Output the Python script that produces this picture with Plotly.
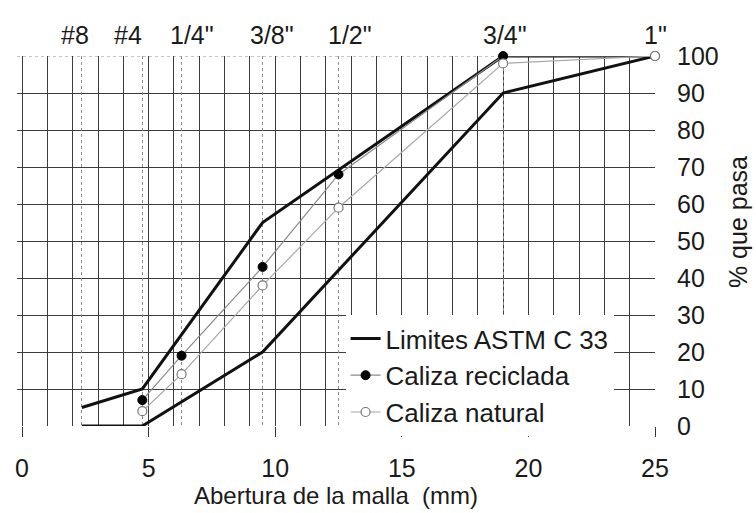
import plotly.graph_objects as go

# ---- data ----
sieve_mm = [2.36, 4.75, 6.3, 9.5, 12.5, 19.0, 25.0]
sieve_labels = ['#8', '#4', '1/4"', '3/8"', '1/2"', '3/4"', '1"']

lower_x = [2.36, 4.75, 9.5, 19.0, 25.0]
lower_y = [0, 0, 20, 90, 100]
upper_x = [2.36, 4.75, 9.5, 19.0, 25.0]
upper_y = [5, 10, 55, 100, 100]

sample_x = [4.75, 6.3, 9.5, 12.5, 19.0, 25.0]
reciclada_y = [7, 19, 43, 68, 100, 100]
natural_y = [4, 14, 38, 59, 98, 100]

x_ticks = [0, 5, 10, 15, 20, 25]
y_ticks = [0, 10, 20, 30, 40, 50, 60, 70, 80, 90, 100]

# label nudges (pixels) for the sieve names on top, to mimic the original layout
label_shift = [-7, -14, 10, 9, 11, 2, 0]

FONT = "Liberation Sans, Arial, sans-serif"
TXT = "#1a1a1a"
GRID = "#3c3c3c"
DOT = "#8a8a8a"

fig = go.Figure()

fig.add_trace(go.Scatter(
    x=lower_x + [None] + upper_x,
    y=lower_y + [None] + upper_y,
    mode="lines", name="Limites ASTM C 33",
    line=dict(color="#111111", width=3),
    cliponaxis=False,
))
fig.add_trace(go.Scatter(
    x=sample_x, y=reciclada_y, mode="lines+markers", name="Caliza reciclada",
    line=dict(color="#8a8a8a", width=1.2),
    marker=dict(symbol="circle", size=9, color="#000000", line=dict(color="#000000", width=1)),
    cliponaxis=False,
))
fig.add_trace(go.Scatter(
    x=sample_x, y=natural_y, mode="lines+markers", name="Caliza natural",
    line=dict(color="#a8a8a8", width=1.2),
    marker=dict(symbol="circle", size=9, color="#ffffff", line=dict(color="#777777", width=1.2)),
    cliponaxis=False,
))
# invisible trace to activate the top axis (dotted sieve lines)
fig.add_trace(go.Scatter(x=[sieve_mm[0]], y=[None], xaxis="x2", showlegend=False,
                         hoverinfo="skip", mode="markers"))

for xv, lab, sh in zip(sieve_mm, sieve_labels, label_shift):
    fig.add_annotation(x=xv, y=1, xref="x", yref="paper", text=lab, showarrow=False,
                       xanchor="center", yanchor="bottom", xshift=sh, yshift=5,
                       font=dict(size=25, color=TXT))

# right-hand axis title
fig.add_annotation(x=1.130, y=0.551, xref="paper", yref="paper", text="% que pasa",
                   showarrow=False, textangle=-90, xanchor="center", yanchor="middle",
                   font=dict(size=25, color=TXT))

# dotted top border at 100 %
fig.add_shape(type="line", xref="paper", yref="y", x0=0, x1=1, y0=100, y1=100,
              line=dict(color="white", width=2), layer="between")
fig.add_shape(type="line", xref="paper", yref="y", x0=0, x1=1, y0=100, y1=100,
              line=dict(color=DOT, width=1.2, dash="dot"), layer="between")
# white panel behind the legend (hides the grid there, as in the original)
fig.add_shape(type="rect", xref="paper", yref="paper", x0=0.4875, x1=0.955,
              y0=-0.014, y1=0.297, line=dict(width=0), fillcolor="white", layer="between")

fig.update_layout(
    width=756, height=513,
    margin=dict(l=17, r=101, t=56, b=87),
    paper_bgcolor="white", plot_bgcolor="white",
    font=dict(family=FONT, size=25, color=TXT),
    xaxis=dict(
        range=[-0.2, 25], tickvals=x_ticks, ticktext=[str(v) for v in x_ticks],
        showgrid=True, gridcolor=GRID, gridwidth=1,
        minor=dict(dtick=1, tick0=0, showgrid=True, gridcolor=GRID, gridwidth=1),
        ticks="outside", ticklen=10, tickcolor="#333333", tickwidth=1,
        ticklabelstandoff=10,
        zeroline=False, showline=False, automargin=False,
        title=dict(text="Abertura de la malla  (mm)", font=dict(size=24), standoff=3),
        tickfont=dict(size=25),
    ),
    xaxis2=dict(
        overlaying="x", side="top", matches="x",
        tickvals=sieve_mm, showticklabels=False,
        showgrid=True, gridcolor=DOT, gridwidth=1, griddash="dot",
        ticks="", zeroline=False, showline=False, automargin=False,
    ),
    yaxis=dict(
        range=[0, 100], side="right", tickvals=y_ticks,
        ticktext=[str(v) for v in y_ticks],
        showgrid=True, gridcolor=GRID, gridwidth=1,
        ticks="", ticklabelstandoff=21, zeroline=False, showline=False,
        automargin=False,
        tickfont=dict(size=25),
    ),
    legend=dict(
        x=0.515, y=0.30, xanchor="left", yanchor="top",
        bgcolor="white", borderwidth=0,
        font=dict(size=26, color=TXT), tracegroupgap=0,
    ),
    showlegend=True,
)

fig.write_html("out.html", config={"displayModeBar": False},
               post_script="document.body.style.margin='0';")
